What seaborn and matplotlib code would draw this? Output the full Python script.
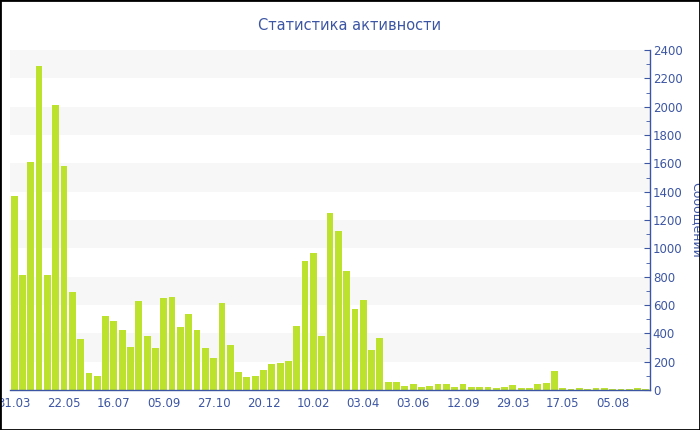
import matplotlib
matplotlib.use("Agg")
import matplotlib.pyplot as plt
import seaborn as sns
import pandas as pd
from matplotlib.patches import Rectangle
from matplotlib.ticker import MultipleLocator

# weekly message counts
messages = [
    1370, 815, 1610, 2285, 810, 2010, 1580, 692, 358, 122,
    101, 522, 487, 424, 306, 626, 384, 299, 652, 654,
    447, 539, 424, 296, 224, 614, 316, 125, 92, 96,
    139, 184, 191, 202, 452, 908, 965, 379, 1247, 1120,
    840, 572, 635, 282, 365, 56, 59, 28, 42, 21,
    28, 42, 42, 21, 40, 19, 18, 24, 14, 21,
    35, 14, 14, 45, 49, 134, 12, 9, 12, 9,
    12, 16, 10, 10, 9, 12, 10,
]
tick_labels = ["31.03", "22.05", "16.07", "05.09", "27.10", "20.12", "10.02",
               "03.04", "03.06", "12.09", "29.03", "17.05", "05.08"]
title = "Статистика активности"
ylabel = "Сообщений"

blue = "#3d56a3"
green = "#bde22e"

df = pd.DataFrame({"week": range(len(messages)), "count": messages})

sns.set_style("white")
plt.rcParams["font.family"] = ["DejaVu Sans"]

fig = plt.figure(figsize=(7, 4.3), dpi=100)
ax = fig.add_axes([10 / 700, 40 / 430, 640 / 700, 340 / 430])

# light bands behind the bars
for lo in range(200, 2400, 400):
    ax.axhspan(lo, lo + 200, color="#f7f7f7", zorder=0, lw=0)

sns.barplot(data=df, x="week", y="count", color=green, width=0.82,
            saturation=1, linewidth=0, ax=ax, zorder=2)

ax.set_xlim(-0.5, len(messages) - 0.5)
ax.set_ylim(0, 2400)
ax.set_xticks(range(0, len(messages), 6))
ax.set_xticklabels(tick_labels)
ax.set_xlabel("")

ax.yaxis.tick_right()
ax.yaxis.set_major_locator(MultipleLocator(200))
ax.yaxis.set_minor_locator(MultipleLocator(100))
ax.set_ylabel(ylabel, rotation=270, color=blue, fontsize=9, va="center")
ax.yaxis.set_label_coords((696 - 10) / 640, 0.5)

for s in ["top", "left"]:
    ax.spines[s].set_visible(False)
for s in ["bottom", "right"]:
    ax.spines[s].set_color(blue)
    ax.spines[s].set_linewidth(1)

ax.tick_params(axis="x", colors=blue, labelsize=8.5, length=3, direction="out", pad=2)
ax.tick_params(axis="y", which="major", colors=blue, labelsize=8.5, length=4,
               direction="in", pad=2)
ax.tick_params(axis="y", which="minor", colors=blue, length=3, direction="in")

fig.text(0.5, 1 - 25 / 430, title, ha="center", va="center", color=blue, fontsize=10.5)

fig.add_artist(Rectangle((0, 0), 1, 1, transform=fig.transFigure, fill=False,
                         edgecolor="black", lw=2))

fig.savefig("out.png", dpi=100)
